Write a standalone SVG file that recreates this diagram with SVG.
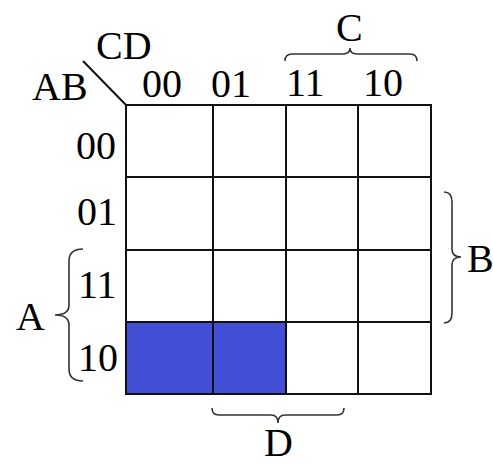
<svg xmlns="http://www.w3.org/2000/svg" width="493" height="464" viewBox="0 0 493 464">
<style>
text{font-family:"Liberation Serif","Times New Roman",serif;font-size:40px;fill:#000}
.grid{stroke:#111;stroke-width:2;fill:none}
.brace{stroke:#333;stroke-width:1.6;fill:none}
</style>
<rect x="0" y="0" width="493" height="464" fill="#fff"/>
<g id="map">
<rect x="126" y="322" width="160" height="72" fill="#434ed6"/>
<path class="grid" d="M126,105H431V394H126Z M213,105V394 M286,105V394 M358,105V394 M126,177H431 M126,250H431 M126,322H431"/>
<line class="grid" x1="83" y1="61" x2="126" y2="105" stroke-width="1.6"/>
</g>
<g id="headers">
<text x="96" y="59">CD</text>
<text x="32" y="100">AB</text>
<text x="142" y="97">00</text>
<text x="211" y="97">01</text>
<text x="286" y="96">11</text>
<text x="363" y="96">10</text>
<text x="76" y="159">00</text>
<text x="77" y="225">01</text>
<text x="78" y="298">11</text>
<text x="78" y="371">10</text>
</g>
<g id="braces">
<path class="brace" d="M285,61 Q285,54 292,54 L343,54 Q350,54 350,48 Q350,54 357,54 L410,54 Q417,54 417,61"/>
<path class="brace" d="M212,408 Q212,415 219,415 L271,415 Q278,415 278,423 Q278,415 285,415 L337,415 Q344,415 344,408"/>
<path class="brace" d="M83,249 Q69,249 69,261 L69,305 Q69,315 55,315 Q69,315 69,325 L69,369 Q69,381 83,381"/>
<path class="brace" d="M444,192 Q452,192 452,202 L452,249 Q452,257 461,257 Q452,257 452,265 L452,313 Q452,323 444,323"/>
<text x="336" y="41">C</text>
<text x="264" y="456">D</text>
<text x="16" y="330">A</text>
<text x="467" y="272">B</text>
</g>
</svg>
